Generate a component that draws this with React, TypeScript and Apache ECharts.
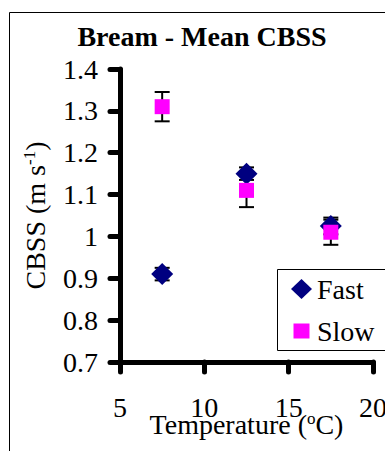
import React, { useEffect, useRef } from "react";
import * as echarts from "echarts";

const temps = [7.5, 12.5, 17.5];
const fastMean = [0.91, 1.15, 1.025];
const fastErr = [0.015, 0.015, 0.02];
const slowMean = [1.31, 1.11, 1.01];
const slowErr = [0.035, 0.04, 0.03];
const yTicks = [0.7, 1.4, 0.1];
const xTicks = [5, 20, 5];

const FONT = "Liberation Serif";

export default function App() {
  const ref = useRef<HTMLDivElement>(null);
  useEffect(() => {
    if (!ref.current) return;
    const chart = echarts.init(ref.current, null, { renderer: "svg" });
    const errData = [
      ...temps.map((t, i) => [t, fastMean[i], fastErr[i]]),
      ...temps.map((t, i) => [t, slowMean[i], slowErr[i]]),
    ];
    const axisLineStyle = { color: "#000", width: 5, cap: "round" };
    chart.setOption({
      animation: false,
      textStyle: { fontFamily: FONT, color: "#000" },
      title: {
        text: "Bream - Mean CBSS",
        left: 202,
        top: 22,
        padding: 0,
        textAlign: "center",
        textStyle: { fontFamily: FONT, fontSize: 28, fontWeight: "bold", color: "#000" },
      },
      graphic: [
        {
          type: "rect",
          shape: { x: 9.5, y: 12.5, width: 420, height: 460 },
          style: { fill: "none", stroke: "#000", lineWidth: 1 },
          silent: true,
        },
        {
          type: "rect",
          shape: { x: 277.5, y: 269.5, width: 130, height: 81 },
          style: { fill: "#fff", stroke: "#000", lineWidth: 1 },
          silent: true,
          z: 5,
        },
      ],
      legend: {
        orient: "vertical",
        left: 291,
        top: 275,
        padding: 0,
        itemGap: 14,
        itemWidth: 21,
        itemHeight: 20,
        z: 10,
        textStyle: { fontFamily: FONT, fontSize: 28, lineHeight: 28, color: "#000" },
        data: [
          { name: "Fast", icon: "diamond" },
          { name: "Slow", icon: "path://M0,0M21,20M2.5,2.5L18.5,2.5L18.5,17.5L2.5,17.5Z" },
        ],
      },
      grid: { left: 120, top: 69, width: 253, height: 293, containLabel: false, outerBoundsMode: "none" },
      xAxis: {
        type: "value",
        min: xTicks[0],
        max: xTicks[1],
        interval: xTicks[2],
        name: "Temperature ({sup|o}C)",
        nameLocation: "middle",
        nameGap: 48,
        nameMoveOverlap: false,
        nameTextStyle: {
          fontFamily: FONT,
          fontSize: 28,
          color: "#000",
          rich: { sup: { fontFamily: FONT, fontSize: 17, verticalAlign: "top", padding: [0, 0, 12, 0], color: "#000" } },
        },
        axisLine: { show: true, onZero: false, lineStyle: axisLineStyle },
        axisTick: { show: true, length: 10, lineStyle: { color: "#000", width: 5, cap: "round" } },
        axisLabel: { fontFamily: FONT, fontSize: 28, color: "#000", margin: 31, hideOverlap: false },
        splitLine: { show: false },
      },
      yAxis: {
        type: "value",
        min: yTicks[0],
        max: yTicks[1],
        interval: yTicks[2],
        name: "CBSS (m s{sup|-1})",
        nameLocation: "middle",
        nameGap: 70,
        nameMoveOverlap: false,
        nameTextStyle: {
          fontFamily: FONT,
          fontSize: 28,
          color: "#000",
          rich: { sup: { fontFamily: FONT, fontSize: 17, verticalAlign: "top", padding: [0, 0, 12, 0], color: "#000" } },
        },
        axisLine: { show: true, onZero: false, lineStyle: axisLineStyle },
        axisTick: { show: true, length: 10, lineStyle: { color: "#000", width: 5, cap: "round" } },
        axisLabel: {
          fontFamily: FONT,
          fontSize: 28,
          color: "#000",
          margin: 22,
          formatter: (v: number) => String(parseFloat(v.toFixed(1))),
        },
        splitLine: { show: false },
      },
      series: [
        {
          name: "errors",
          type: "custom",
          z: 1,
          silent: true,
          data: errData,
          renderItem: (params: any, api: any) => {
            const x = api.value(0);
            const y = api.value(1);
            const e = api.value(2);
            const top = api.coord([x, y + e]);
            const bot = api.coord([x, y - e]);
            const hw = 7.5;
            const st = { stroke: "#000", lineWidth: 2 };
            return {
              type: "group",
              children: [
                { type: "line", shape: { x1: top[0], y1: top[1], x2: bot[0], y2: bot[1] }, style: st },
                { type: "line", shape: { x1: top[0] - hw, y1: top[1], x2: top[0] + hw, y2: top[1] }, style: st },
                { type: "line", shape: { x1: bot[0] - hw, y1: bot[1], x2: bot[0] + hw, y2: bot[1] }, style: st },
              ],
            };
          },
        },
        {
          name: "Fast",
          type: "scatter",
          z: 2,
          symbol: "diamond",
          symbolSize: [22, 22],
          itemStyle: { color: "#000080", opacity: 1 },
          data: temps.map((t, i) => [t, fastMean[i]]),
        },
        {
          name: "Slow",
          type: "scatter",
          z: 3,
          symbol: "rect",
          symbolSize: [15, 15],
          itemStyle: { color: "#FF00FF", opacity: 1 },
          data: temps.map((t, i) => [t, slowMean[i]]),
        },
      ],
    });
    return () => chart.dispose();
  }, []);
  return (
    <div
      ref={ref}
      style={{ position: "absolute", left: 0, top: 0, width: 385, height: 451, background: "#fff" }}
    />
  );
}
